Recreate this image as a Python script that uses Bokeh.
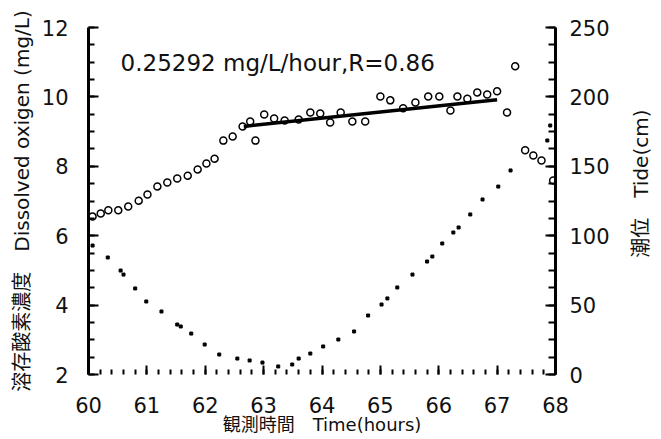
import math
from bokeh.plotting import figure
from bokeh.layouts import row
from bokeh.models import Range1d, LinearAxis, SingleIntervalTicker, Label
from bokeh.embed import file_html
from bokeh.resources import INLINE

# ---- data ----
do_time = [60.07, 60.21, 60.34, 60.51, 60.68, 60.86, 61.01, 61.18, 61.35, 61.52,
           61.70, 61.87, 62.02, 62.16, 62.31, 62.47, 62.64, 62.77, 62.86, 63.01,
           63.18, 63.36, 63.60, 63.80, 63.97, 64.14, 64.32, 64.52, 64.74, 65.00,
           65.17, 65.39, 65.60, 65.82, 66.01, 66.20, 66.32, 66.49, 66.66, 66.83,
           67.00, 67.17, 67.31, 67.48, 67.62, 67.76, 67.96]
do_value = [6.55, 6.64, 6.73, 6.73, 6.84, 7.01, 7.19, 7.42, 7.53, 7.65,
            7.73, 7.91, 8.08, 8.22, 8.74, 8.86, 9.15, 9.29, 8.74, 9.49,
            9.38, 9.32, 9.35, 9.55, 9.52, 9.26, 9.55, 9.29, 9.29, 10.01,
            9.90, 9.67, 9.84, 10.01, 10.01, 9.61, 10.01, 9.95, 10.13, 10.07,
            10.16, 9.55, 10.88, 8.46, 8.31, 8.17, 7.59]

tide_time = [60.07, 60.33, 60.55, 60.60, 60.80, 60.99, 61.25, 61.52, 61.58, 61.76,
             61.99, 62.24, 62.55, 62.76, 62.98, 63.25, 63.49, 63.60, 63.80, 64.02,
             64.28, 64.55, 64.79, 65.02, 65.12, 65.29, 65.55, 65.80, 65.89, 66.06,
             66.25, 66.34, 66.54, 66.75, 67.02, 67.23, 67.86, 67.91]
tide_value = [92.9, 84.3, 74.9, 72.0, 62.0, 52.6, 45.4, 36.0, 34.6, 29.5,
              21.6, 14.4, 11.5, 10.1, 8.6, 5.8, 7.2, 11.5, 15.1, 20.2,
              25.2, 31.0, 42.5, 50.4, 54.8, 62.7, 72.0, 81.4, 85.0, 94.4,
              102.3, 105.9, 115.3, 126.1, 135.4, 147.0, 168.6, 179.4]

fit_time = [62.66, 67.0]
fit_value = [9.15, 9.92]

annotation = "0.25292 mg/L/hour,R=0.86"
left_title = "溶存酸素濃度　Dissolved oxigen (mg/L)"
right_title = "潮位　Tide(cm)"
bottom_title = "観測時間　Time(hours)"

LATIN = "DejaVu Sans"
MIXED = "DejaVu Sans, Noto Sans CJK JP"

p = figure(width=621, height=439, x_range=Range1d(60, 68), y_range=Range1d(2, 12),
           output_backend="svg", toolbar_location=None,
           x_axis_type=None, y_axis_type=None,
           min_border_left=88, min_border_right=66, min_border_top=27, min_border_bottom=65)
p.extra_y_ranges = {"tide": Range1d(0, 250)}
p.outline_line_color = None
p.background_fill_color = "white"
p.border_fill_color = "white"


def style_axis(ax):
    ax.major_tick_out = 0
    ax.minor_tick_out = 0
    ax.major_tick_line_width = 2
    ax.minor_tick_line_width = 2
    ax.major_tick_line_color = "black"
    ax.minor_tick_line_color = "black"
    ax.major_label_text_font = LATIN
    ax.major_label_text_font_size = "21px"
    ax.major_label_text_color = "#111111"
    ax.axis_label_text_font = MIXED
    ax.axis_label_text_font_style = "normal"
    ax.axis_label_text_font_size = "20px"
    ax.axis_label_text_color = "#111111"


left = LinearAxis(ticker=SingleIntervalTicker(interval=2, num_minor_ticks=4),
                  axis_label=left_title)
style_axis(left)
left.axis_line_width = 3
left.major_tick_in = 10
left.minor_tick_in = 6
left.major_label_standoff = 20
left.axis_label_standoff = 5
p.add_layout(left, "left")

right = LinearAxis(y_range_name="tide",
                   ticker=SingleIntervalTicker(interval=50, num_minor_ticks=4))
style_axis(right)
right.axis_line_width = 3
right.major_tick_in = 10
right.minor_tick_in = 7
right.major_label_standoff = 14
p.add_layout(right, "right")

bottom = LinearAxis(ticker=SingleIntervalTicker(interval=1, num_minor_ticks=5),
                    axis_label=bottom_title)
style_axis(bottom)
bottom.axis_line_color = None
bottom.major_tick_in = 9
bottom.minor_tick_in = 5
bottom.major_label_standoff = 22
bottom.axis_label_standoff = -2
bottom.axis_label_text_font_size = "18px"
p.add_layout(bottom, "below")

p.scatter(do_time, do_value, marker="circle", size=7, fill_alpha=0,
          line_color="black", line_width=1.5)
p.line(fit_time, fit_value, line_color="black", line_width=3.5)
p.scatter(tide_time, tide_value, y_range_name="tide", marker="square", size=3,
          color="black")

p.add_layout(Label(x=60.55, y=10.99, text=annotation, text_baseline="middle",
                   text_font=LATIN, text_font_size="23px", text_color="#111111"))

# narrow strip carrying the right-hand axis title, reading bottom-to-top
t = figure(width=40, height=439, x_range=Range1d(0, 1), y_range=Range1d(0, 1),
           output_backend="svg", toolbar_location=None,
           x_axis_type=None, y_axis_type=None, min_border=0)
t.outline_line_color = None
t.background_fill_color = "white"
t.border_fill_color = "white"
t.add_layout(Label(x=0.48, y=0.55, text=right_title, angle=math.pi / 2,
                   angle_units="rad", text_align="center", text_baseline="middle",
                   text_font=MIXED, text_font_size="20px", text_color="#111111"))

layout = row(p, t, spacing=0)
open("out.html", "w").write(file_html(layout, INLINE))
